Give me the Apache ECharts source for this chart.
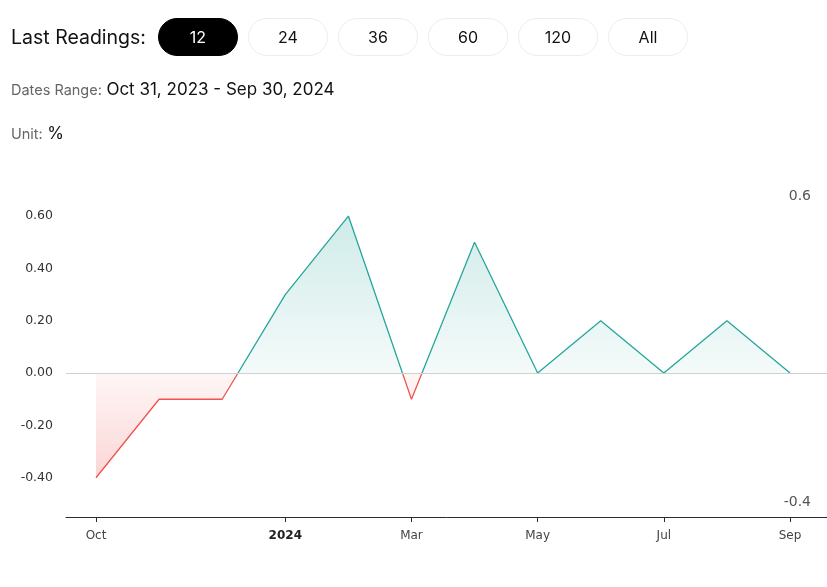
<!DOCTYPE html>
<html>
<head>
<meta charset="utf-8">
<script src="https://cdn.jsdelivr.net/npm/echarts@6/dist/echarts.min.js"></script>
<style>
  html, body { margin: 0; padding: 0; background: #fff; width: 827px; height: 587px; overflow: hidden; }
  #chart { position: absolute; left: 0; top: 0; width: 827px; height: 587px; }
  .hdr { position: absolute; font-family: Inter, Roboto, "Noto Sans", sans-serif; white-space: nowrap; }
  .title { left: 11px; top: 24px; font-size: 19.5px; color: #111; line-height: 26px; }
  .btn { position: absolute; top: 18px; width: 78px; height: 36px; border: 1px solid #ececec; border-radius: 19px;
         font-family: Inter, Roboto, sans-serif; font-size: 16px; color: #111; text-align: center; line-height: 36px; }
  .btn.active { background: #000; color: #fff; border-color: #000; }
  .lab { color: #666; font-size: 14.5px; }
  .val { color: #111; font-size: 17px; }
</style>
</head>
<body>
<div id="chart"></div>
<div class="hdr title">Last Readings:</div>
<div id="btns"></div>
<div class="hdr" style="left:11px; top:79px;"><span class="lab">Dates Range:</span> <span class="val">Oct 31, 2023 - Sep 30, 2024</span></div>
<div class="hdr" style="left:11px; top:123px;"><span class="lab">Unit:</span> <span class="val">%</span></div>
<script>
const buttons = ['12', '24', '36', '60', '120', 'All'];
const categories = ['Oct 2023', 'Nov 2023', 'Dec 2023', 'Jan 2024', 'Feb 2024', 'Mar 2024',
                    'Apr 2024', 'May 2024', 'Jun 2024', 'Jul 2024', 'Aug 2024', 'Sep 2024'];
const values = [-0.4, -0.1, -0.1, 0.3, 0.6, -0.1, 0.5, 0.0, 0.2, 0.0, 0.2, 0.0];
const tickIndex = [0, 3, 5, 7, 9, 11];
const tickLabels = ['Oct', '2024', 'Mar', 'May', 'Jul', 'Sep'];
const yTicks = [-0.4, -0.2, 0, 0.2, 0.4, 0.6];

const btnHost = document.getElementById('btns');
buttons.forEach((b, i) => {
  const d = document.createElement('div');
  d.className = 'btn' + (i === 0 ? ' active' : '');
  d.style.left = (158 + i * 90) + 'px';
  d.textContent = b;
  btnHost.appendChild(d);
});

const teal = '#26a69a';
const red = '#ef5350';
const vMax = Math.max(...values);
const vMin = Math.min(...values);
const zeroStop = vMax / (vMax - vMin);

const chart = echarts.init(document.getElementById('chart'), null, { renderer: 'canvas' });
chart.setOption({
  animation: false,
  grid: { left: 66, right: 0, top: 181, bottom: 70 },
  xAxis: {
    type: 'value',
    min: -0.4755,
    max: 11.586,
    axisLine: { show: true, onZero: false, lineStyle: { color: '#2b2b36', width: 1 } },
    axisTick: { show: true, customValues: tickIndex, length: 5, lineStyle: { color: '#2b2b36' } },
    splitLine: { show: false },
    axisLabel: {
      customValues: tickIndex,
      margin: 13,
      fontFamily: 'DejaVu Sans',
      fontSize: 12,
      color: '#444',
      formatter: v => {
        const k = tickIndex.indexOf(Math.round(v));
        const t = tickLabels[k];
        return t === '2024' ? '{b|' + t + '}' : t;
      },
      rich: { b: { fontWeight: 'bold', color: '#222', fontFamily: 'DejaVu Sans', fontSize: 12 } }
    }
  },
  yAxis: [{
    type: 'value',
    min: -0.55,
    max: 0.734,
    axisLine: { show: false },
    axisTick: { show: false },
    splitLine: { show: false },
    axisLabel: {
      customValues: yTicks,
      margin: 13,
      fontFamily: 'DejaVu Sans',
      fontSize: 12.5,
      color: '#333',
      formatter: v => v.toFixed(2)
    }
  }, {
    type: 'value',
    position: 'right',
    min: -0.449,
    max: 0.649,
    axisLine: { show: false },
    axisTick: { show: false },
    splitLine: { show: false },
    axisLabel: {
      inside: true,
      customValues: [vMin, vMax],
      margin: 16,
      fontFamily: 'DejaVu Sans',
      fontSize: 14,
      color: '#555',
      formatter: v => String(Math.round(v * 10) / 10)
    }
  }],
  visualMap: {
    show: false,
    type: 'piecewise',
    dimension: 1,
    seriesIndex: 0,
    pieces: [{ gte: -100, lt: 0, color: red }, { gte: 0, lte: 100, color: teal }]
  },
  series: [{
    type: 'line',
    yAxisIndex: 0,
    data: values.map((v, i) => [i, v]),
    showSymbol: false,
    lineStyle: { width: 1.3 },
    areaStyle: {
      color: new echarts.graphic.LinearGradient(0, 0, 0, 1, [
        { offset: 0, color: 'rgba(38,166,154,0.22)' },
        { offset: zeroStop, color: 'rgba(38,166,154,0.05)' },
        { offset: zeroStop, color: 'rgba(239,83,80,0.05)' },
        { offset: 1, color: 'rgba(239,83,80,0.24)' }
      ]),
      opacity: 1
    },
    markLine: {
      silent: true,
      symbol: 'none',
      label: { show: false },
      lineStyle: { color: '#d0d0d0', type: 'solid', width: 1 },
      data: [{ yAxis: 0 }]
    }
  }]
});
</script>
</body>
</html>
